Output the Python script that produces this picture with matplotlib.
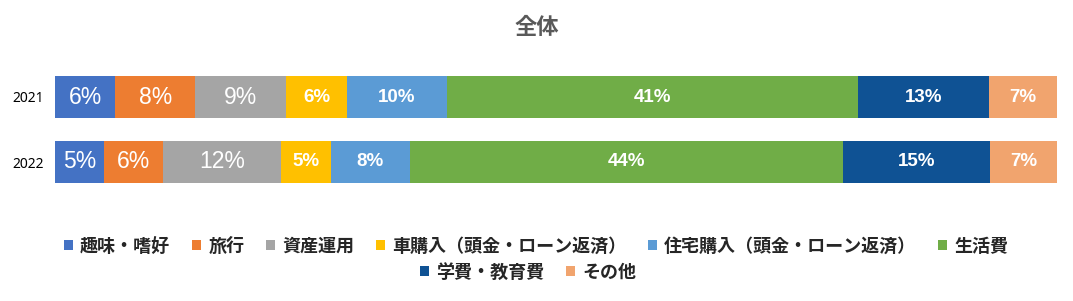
import matplotlib
matplotlib.use("Agg")
import matplotlib.pyplot as plt
from matplotlib.patches import Patch

years = ["2021", "2022"]
categories = ["趣味・嗜好", "旅行", "資産運用", "車購入（頭金・ローン返済）",
              "住宅購入（頭金・ローン返済）", "生活費", "学費・教育費", "その他"]
values_2021 = [6.0, 8.0, 9.1, 6.0, 10.0, 41.0, 13.1, 6.8]
values_2022 = [4.9, 5.9, 11.8, 4.9, 7.9, 43.2, 14.7, 6.8]
labels_2021 = ["6%", "8%", "9%", "6%", "10%", "41%", "13%", "7%"]
labels_2022 = ["5%", "6%", "12%", "5%", "8%", "44%", "15%", "7%"]
colors = ["#4472C4", "#ED7D31", "#A5A5A5", "#FFC000", "#5B9BD5", "#70AD47", "#0F5294", "#F1A46E"]

plt.rcParams['font.family'] = ['Noto Sans CJK JP', 'DejaVu Sans']

W, H = 1073, 301
fig = plt.figure(figsize=(W / 100, H / 100), dpi=100)
ax = fig.add_axes([55 / W, 1 - 194.5 / H, 1002 / W, 130 / H])

rows = [values_2021, values_2022]
row_labels = [labels_2021, labels_2022]
for yi, (vals, labs) in enumerate(zip(rows, row_labels)):
    left = 0.0
    for ci, (v, lab) in enumerate(zip(vals, labs)):
        ax.barh(yi, v, left=left, height=42 / 65, color=colors[ci], edgecolor='none')
        if ci < 3:
            ax.text(left + v / 2, yi, lab, ha='center', va='center', color='white',
                    fontsize=16.5, family=['Liberation Sans', 'DejaVu Sans'])
        else:
            ax.text(left + v / 2, yi, lab, ha='center', va='center', color='white',
                    fontsize=13.5, fontweight='bold',
                    family=['Liberation Sans', 'DejaVu Sans'])
        left += v

total = sum(values_2021)
ax.set_xlim(0, total)
ax.set_ylim(1.5, -0.5)
ax.set_yticks(range(len(years)))
ax.set_yticklabels(years, fontsize=10, family=['Noto Sans', 'DejaVu Sans'])
ax.set_xticks([])
ax.tick_params(axis='y', length=0, pad=8)
for s in ax.spines.values():
    s.set_visible(False)

fig.text(537 / W, 1 - 28 / H, "全体", ha='center', va='center', fontsize=16,
         fontweight='bold', color='#595959')

handles = [Patch(facecolor=c, edgecolor='none') for c in colors]
leg_kw = dict(loc='center', frameon=False, handlelength=0.5,
              handleheight=0.5, handletextpad=0.4, columnspacing=1.2,
              borderpad=0, prop={'size': 13, 'weight': 'bold'})
leg1 = fig.legend(handles[:6], categories[:6], ncol=6,
                  bbox_to_anchor=(536 / W, 1 - 246 / H), **leg_kw)
leg2 = fig.legend(handles[6:], categories[6:], ncol=2,
                  bbox_to_anchor=(528 / W, 1 - 272 / H), **leg_kw)
for leg in (leg1, leg2):
    for t in leg.get_texts():
        t.set_color('#262626')

fig.savefig("out.png", dpi=100)
